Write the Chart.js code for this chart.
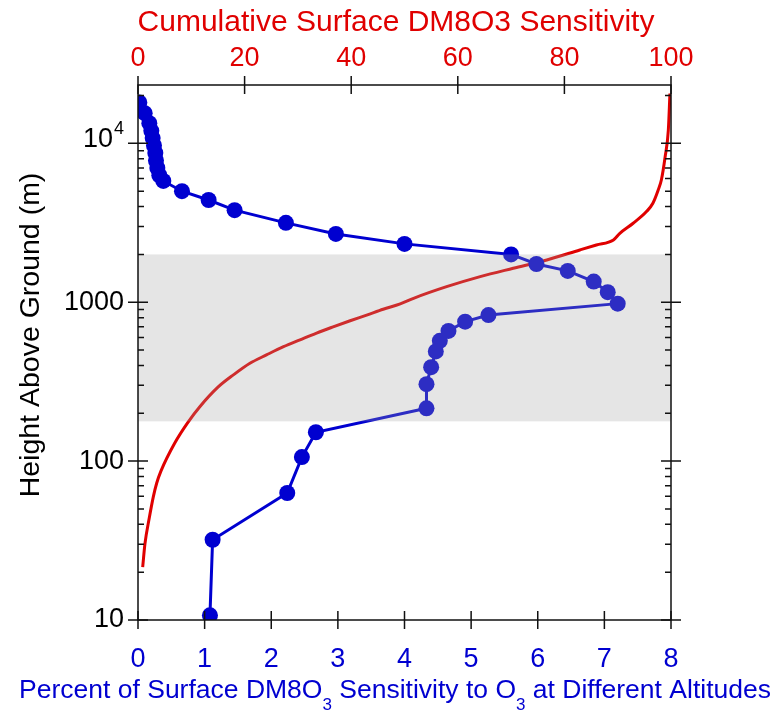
<!DOCTYPE html>
<html>
<head>
<meta charset="utf-8">
<script src="https://cdn.jsdelivr.net/npm/chart.js@4.4.0/dist/chart.umd.min.js"></script>
<style>
  html, body { margin: 0; padding: 0; background: #fff; }
  #wrap { width: 777px; height: 712px; }
</style>
</head>
<body>
<div id="wrap"><canvas id="c" width="777" height="712"></canvas></div>
<script>
// blue series: percent of surface sensitivity at each altitude (m)
const blueX = [0.02, 0.1, 0.17, 0.2, 0.22, 0.24, 0.26, 0.27, 0.29, 0.32, 0.38, 0.66, 1.06, 1.45, 2.22, 2.97,
  4.0, 5.6, 5.98, 6.45, 6.84, 7.05, 7.2, 5.26, 4.91, 4.66, 4.53, 4.47, 4.40, 4.33, 4.33, 2.67, 2.46, 2.24, 1.12, 1.08];
const blueH = [18100, 15500, 13400, 12000, 10800, 9700, 8700, 7800, 7000, 6300, 5800, 5000, 4400, 3800, 3160, 2690,
  2330, 2000, 1740, 1575, 1350, 1157, 980, 830, 755, 660, 572, 490, 390, 305, 215, 152, 106, 63, 32, 10.7];

// red series: cumulative surface sensitivity (%)
const redX = [0.88, 1.31, 2.12, 2.87, 3.5, 4.3, 6.9, 9.4, 11.6, 15.0, 17.9, 21.0, 24.1, 27.3, 30.4, 33.5, 36.6,
  39.8, 42.9, 46.0, 49.2, 51.7, 57.9, 64.2, 70.4, 76.7, 82.9, 86.0, 89.2, 90.4, 92.9, 95.4, 96.6, 97.6, 98.2, 98.9, 99.5, 99.8];
const redH = [21.5, 30.3, 44, 59.6, 72.6, 86.5, 130, 176, 220, 292, 349, 413, 466, 525, 580, 640, 700,
  765, 830, 904, 977, 1059, 1253, 1449, 1637, 1846, 2134, 2293, 2466, 2716, 3141, 3720, 4198, 5085, 5900, 8240, 12130, 20600];

// shaded layer (m)
const bandTop = 2000;
const bandBottom = 178;

const bottomTicks = [0, 1, 2, 3, 4, 5, 6, 7, 8];
const topTicks = [0, 20, 40, 60, 80, 100];
const yMajor = [10, 100, 1000, 10000];

const BLUE = '#0000d0';
const RED = '#e00000';
const FONT = '"Liberation Sans", Arial, sans-serif';

const decor = {
  id: 'decor',
  beforeDraw(chart) {
    const ctx = chart.ctx;
    ctx.save();
    ctx.fillStyle = '#fff';
    ctx.fillRect(0, 0, chart.width, chart.height);
    ctx.restore();
  },
  afterDatasetsDraw(chart) {
    const ctx = chart.ctx;
    const a = chart.chartArea;
    const x = chart.scales.x, x2 = chart.scales.x2, y = chart.scales.y;
    ctx.save();

    // gray band over the lines
    const yb1 = y.getPixelForValue(bandTop), yb2 = y.getPixelForValue(bandBottom);
    ctx.fillStyle = 'rgba(160,160,160,0.28)';
    ctx.fillRect(a.left, yb1, a.right - a.left, yb2 - yb1);

    // frame
    ctx.strokeStyle = '#111';
    ctx.lineWidth = 1.5;
    ctx.strokeRect(a.left, a.top, a.right - a.left, a.bottom - a.top);

    ctx.beginPath();
    // bottom ticks
    bottomTicks.forEach(v => {
      const px = x.getPixelForValue(v);
      ctx.moveTo(px, a.bottom - 9); ctx.lineTo(px, a.bottom + 9);
    });
    // top ticks
    topTicks.forEach(v => {
      const px = x2.getPixelForValue(v);
      ctx.moveTo(px, a.top - 9); ctx.lineTo(px, a.top + 9);
    });
    // y ticks, left and right
    for (let e = 1; e <= 4; e++) {
      for (let m = 1; m <= 9; m++) {
        const v = m * Math.pow(10, e);
        if (v > y.max) break;
        const py = y.getPixelForValue(v);
        if (m === 1) {
          ctx.moveTo(a.left - 10, py); ctx.lineTo(a.left + 10, py);
          ctx.moveTo(a.right - 10, py); ctx.lineTo(a.right + 10, py);
        } else {
          ctx.moveTo(a.left, py); ctx.lineTo(a.left + 6, py);
          ctx.moveTo(a.right - 6, py); ctx.lineTo(a.right, py);
        }
      }
    }
    ctx.stroke();

    // bottom tick labels
    ctx.font = '27px ' + FONT;
    ctx.textAlign = 'center';
    ctx.textBaseline = 'alphabetic';
    ctx.fillStyle = BLUE;
    bottomTicks.forEach(v => ctx.fillText(String(v), x.getPixelForValue(v), 667));

    // top tick labels
    ctx.fillStyle = RED;
    topTicks.forEach(v => ctx.fillText(String(v), x2.getPixelForValue(v), 66));

    // y labels
    ctx.fillStyle = '#000';
    ctx.textAlign = 'right';
    ctx.textBaseline = 'middle';
    yMajor.forEach(v => {
      const py = y.getPixelForValue(v);
      if (v === 10000) {
        ctx.font = '18px ' + FONT;
        ctx.fillText('4', 124, py - 14);
        ctx.font = '27px ' + FONT;
        ctx.fillText('10', 113, py - 4);
      } else {
        ctx.font = '27px ' + FONT;
        ctx.fillText(String(v), 124, py);
      }
    });

    // top title
    ctx.textBaseline = 'alphabetic';
    ctx.textAlign = 'center';
    ctx.fillStyle = RED;
    ctx.font = '30px ' + FONT;
    ctx.fillText('Cumulative Surface DM8O3 Sensitivity', 396, 31);

    // bottom title with subscripts
    const parts = [['Percent of Surface DM8O', false], ['3', true], [' Sensitivity to O', false], ['3', true], [' at Different Altitudes', false]];
    const big = '26.5px ' + FONT, small = '17px ' + FONT;
    let total = 0;
    parts.forEach(p => { ctx.font = p[1] ? small : big; total += ctx.measureText(p[0]).width; });
    let cx = 395 - total / 2;
    ctx.textAlign = 'left';
    ctx.fillStyle = BLUE;
    parts.forEach(p => {
      ctx.font = p[1] ? small : big;
      ctx.fillText(p[0], cx, p[1] ? 710 : 698);
      cx += ctx.measureText(p[0]).width;
    });

    // y title
    ctx.translate(31, 335);
    ctx.rotate(-Math.PI / 2);
    ctx.textAlign = 'center';
    ctx.textBaseline = 'middle';
    ctx.fillStyle = '#000';
    ctx.font = '28.5px ' + FONT;
    ctx.fillText('Height Above Ground (m)', 0, 0);

    ctx.restore();
  }
};

new Chart(document.getElementById('c'), {
  type: 'scatter',
  data: {
    datasets: [
      {
        label: 'Percent',
        data: blueX.map((v, i) => ({ x: v, y: blueH[i] })),
        xAxisID: 'x', yAxisID: 'y',
        showLine: true,
        borderColor: BLUE, backgroundColor: BLUE,
        borderWidth: 3,
        pointRadius: 8, pointHoverRadius: 8,
        pointBorderWidth: 0
      },
      {
        label: 'Cumulative',
        data: redX.map((v, i) => ({ x: v, y: redH[i] })),
        xAxisID: 'x2', yAxisID: 'y',
        showLine: true,
        borderColor: RED, backgroundColor: RED,
        borderWidth: 3,
        cubicInterpolationMode: 'monotone',
        pointRadius: 0
      }
    ]
  },
  options: {
    responsive: false,
    animation: false,
    layout: { padding: { left: 138, right: 106, top: 85, bottom: 92 } },
    plugins: { legend: { display: false }, tooltip: { enabled: false } },
    scales: {
      x: { type: 'linear', min: 0, max: 8, display: false },
      x2: { type: 'linear', min: 0, max: 100, display: false, position: 'top' },
      y: { type: 'logarithmic', min: 10, max: 23300, display: false }
    }
  },
  plugins: [decor]
});
</script>
</body>
</html>
